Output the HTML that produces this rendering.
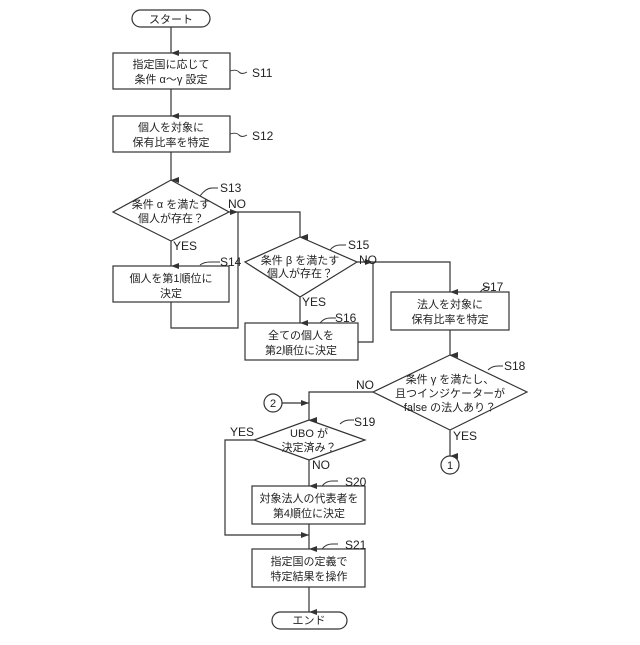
<!DOCTYPE html>
<html><head><meta charset="utf-8"><style>
html,body{margin:0;padding:0;background:#fff}
svg text{font-family:"Liberation Sans","Noto Sans CJK JP",sans-serif;font-size:11px;fill:#222}
</style></head><body>
<svg width="640" height="640" viewBox="0 0 640 640" xmlns="http://www.w3.org/2000/svg">
<defs><marker id="a" markerWidth="6" markerHeight="8" refX="3" refY="8" orient="auto-start-reverse" markerUnits="userSpaceOnUse" viewBox="0 0 6 8"><path d="M0,0 L3,8 L6,0" fill="#333"/></marker>
<marker id="r" markerWidth="8" markerHeight="6" refX="8" refY="3" markerUnits="userSpaceOnUse" viewBox="0 0 8 6"><path d="M0,0 L8,3 L0,6" fill="#333"/></marker></defs>
<g fill="none" stroke="#333" stroke-width="1.2">
<rect x="132" y="10" width="78" height="17" rx="8.5"/>
<rect x="113" y="53" width="117" height="36"/>
<rect x="113" y="116" width="117" height="36"/>
<polygon points="171,180 229,212 171,241 113,212"/>
<rect x="113" y="266" width="116" height="36"/>
<polygon points="300,237 357,262 300,297 245,262"/>
<rect x="245" y="323" width="113" height="37"/>
<rect x="391" y="292" width="118" height="38"/>
<polygon points="450,355 527,392 450,430 373,392"/>
<circle cx="273" cy="403" r="9"/>
<circle cx="450" cy="465" r="9"/>
<polygon points="309,420 365,440 309,460 254,440"/>
<rect x="252" y="486" width="113" height="38"/>
<rect x="252" y="549" width="113" height="38"/>
<rect x="272" y="612" width="75" height="17" rx="8.5"/>
<!-- connectors -->
<line x1="171" y1="27" x2="171" y2="53" marker-end="url(#a)"/>
<line x1="171" y1="89" x2="171" y2="116" marker-end="url(#a)"/>
<line x1="171" y1="152" x2="171" y2="180" marker-end="url(#a)"/>
<line x1="171" y1="241" x2="171" y2="266" marker-end="url(#a)"/>
<polyline points="229,212 300,212 300,237" marker-end="url(#a)"/>
<polyline points="171,302 171,328 238,328 238,212" marker-end="url(#a)"/>
<line x1="300" y1="297" x2="300" y2="323" marker-end="url(#a)"/>
<polyline points="357,262 450,262 450,292" marker-end="url(#a)"/>
<polyline points="358,342 373,342 373,262" marker-end="url(#a)"/>
<line x1="450" y1="330" x2="450" y2="355" marker-end="url(#a)"/>
<polyline points="373,392 309,392 309,420" marker-end="url(#a)"/>
<line x1="282" y1="403" x2="309" y2="403" marker-end="url(#r)"/>
<line x1="450" y1="430" x2="450" y2="456" marker-end="url(#a)"/>
<line x1="309" y1="460" x2="309" y2="486" marker-end="url(#a)"/>
<polyline points="254,440 225,440 225,535 309,535" marker-end="url(#r)"/>
<line x1="309" y1="524" x2="309" y2="549" marker-end="url(#a)"/>
<line x1="309" y1="587" x2="309" y2="612" marker-end="url(#a)"/>
<!-- leaders -->
<g stroke-width="0.9">
<path d="M230,71 q6,-2 9,1 t8,0"/>
<path d="M230,134 q6,-2 9,1 t8,0"/>
<path d="M200,196 q6,-8 12,-8 l6,0"/>
<path d="M200,265 q4,-3 10,-3 l10,0"/>
<path d="M330,250 q4,-5 10,-5 l6,0"/>
<path d="M320,323 q4,-5 10,-5 l6,0"/>
<path d="M480,292 q4,-5 10,-5 l-2,0"/>
<path d="M488,370 q4,-4 10,-4 l5,0"/>
<path d="M340,424 q4,-4 10,-4 l4,0"/>
<path d="M322,486 q4,-5 10,-5 l6,0"/>
<path d="M322,549 q4,-5 10,-5 l6,0"/>
</g>
</g>
<g text-anchor="middle">
<text x="171" y="23">スタート</text>
<text x="171" y="68">指定国に応じて</text>
<text x="171" y="83">条件 α～γ 設定</text>
<text x="171" y="131">個人を対象に</text>
<text x="171" y="146">保有比率を特定</text>
<text x="171" y="208">条件 α を満たす</text>
<text x="171" y="222">個人が存在？</text>
<text x="171" y="282">個人を第1順位に</text>
<text x="171" y="297">決定</text>
<text x="300" y="264">条件 β を満たす</text>
<text x="300" y="277">個人が存在？</text>
<text x="301" y="339">全ての個人を</text>
<text x="301" y="354">第2順位に決定</text>
<text x="450" y="308">法人を対象に</text>
<text x="450" y="323">保有比率を特定</text>
<text x="450" y="383">条件 γ を満たし、</text>
<text x="450" y="397">且つインジケーターが</text>
<text x="450" y="411">false の法人あり？</text>
<text x="273" y="407">2</text>
<text x="450" y="469">1</text>
<text x="309" y="437">UBO が</text>
<text x="309" y="451">決定済み？</text>
<text x="309" y="502">対象法人の代表者を</text>
<text x="309" y="517">第4順位に決定</text>
<text x="309" y="565">指定国の定義で</text>
<text x="309" y="580">特定結果を操作</text>
<text x="309" y="624">エンド</text>
</g>
<g font-size="12">
<text x="252" y="77" style="font-size:12px">S11</text>
<text x="252" y="140" style="font-size:12px">S12</text>
<text x="220" y="192" style="font-size:12px">S13</text>
<text x="228" y="208" style="font-size:12px">NO</text>
<text x="173" y="250" style="font-size:12px">YES</text>
<text x="220" y="266" style="font-size:12px">S14</text>
<text x="348" y="249" style="font-size:12px">S15</text>
<text x="359" y="264" style="font-size:12px">NO</text>
<text x="302" y="306" style="font-size:12px">YES</text>
<text x="335" y="322" style="font-size:12px">S16</text>
<text x="482" y="291" style="font-size:12px">S17</text>
<text x="504" y="370" style="font-size:12px">S18</text>
<text x="356" y="389" style="font-size:12px">NO</text>
<text x="453" y="440" style="font-size:12px">YES</text>
<text x="354" y="426" style="font-size:12px">S19</text>
<text x="230" y="436" style="font-size:12px">YES</text>
<text x="312" y="469" style="font-size:12px">NO</text>
<text x="345" y="486" style="font-size:12px">S20</text>
<text x="345" y="549" style="font-size:12px">S21</text>
</g>
</svg>
</body></html>
